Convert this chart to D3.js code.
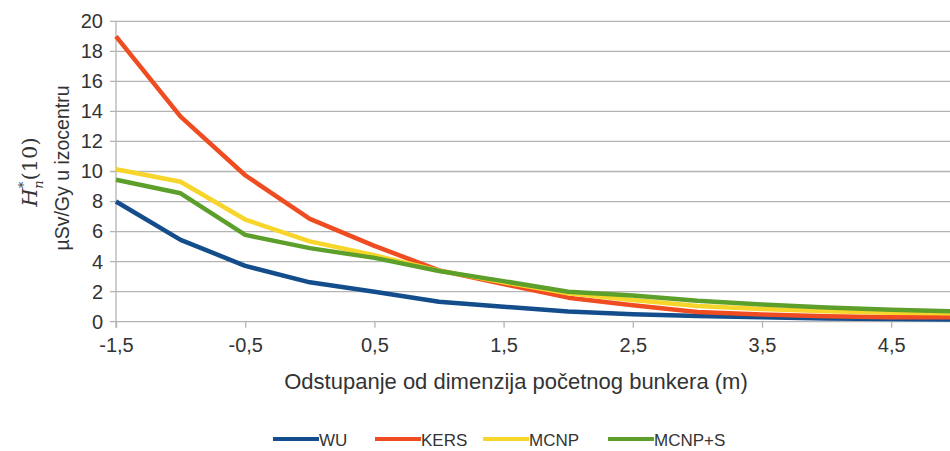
<!DOCTYPE html>
<html><head><meta charset="utf-8">
<script src="https://cdn.jsdelivr.net/npm/d3@7"></script>
<style>body{margin:0;background:#fff}svg{display:block}</style>
</head><body>
<svg id="c" width="950" height="451"></svg>
<script>
const xs = [-1.5,-1.0,-0.5,0,0.5,1.0,1.5,2.0,2.5,3.0,3.5,4.0,4.5,5.0];
const WU     = [8.0,5.45,3.72,2.62,2.0,1.33,1.0,0.68,0.5,0.38,0.3,0.22,0.18,0.15];
const KERS   = [19.0,13.65,9.75,6.85,5.05,3.42,2.5,1.6,1.1,0.65,0.48,0.36,0.3,0.3];
const MCNP   = [10.15,9.32,6.8,5.35,4.42,3.4,2.62,1.9,1.45,1.05,0.85,0.7,0.6,0.55];
const MCNPS  = [9.45,8.55,5.78,4.9,4.25,3.38,2.7,2.0,1.75,1.4,1.15,0.95,0.8,0.68];
const seriesNames = ["WU","KERS","MCNP","MCNP+S"];
const seriesColors = ["#134d8b","#f04c22","#f7d52b","#5d9f2b"];
const yTicks = [0,2,4,6,8,10,12,14,16,18,20];
const xTicks = [-1.5,-0.5,0.5,1.5,2.5,3.5,4.5];

const data = [WU,KERS,MCNP,MCNPS];
const svg = d3.select("#c");
const x = d3.scaleLinear().domain([-1.5,5.0]).range([116,955.8]);
const y = d3.scaleLinear().domain([0,20]).range([321.7,21.3]);
const font = "'Liberation Sans', Arial, sans-serif";

// gridlines
svg.append("g").selectAll("line").data(yTicks).join("line")
  .attr("x1",110).attr("x2",950).attr("y1",d=>y(d)).attr("y2",d=>y(d))
  .attr("stroke","#b4b4b4").attr("stroke-width",1.3);

// y axis
const yAxis = d3.axisLeft(y).tickValues(yTicks).tickSize(0).tickPadding(13)
  .tickFormat(d3.format("d"));
const gy = svg.append("g").attr("transform","translate(116,0)").call(yAxis);
gy.select(".domain").remove();
gy.selectAll("text").attr("font-family",font).attr("font-size",20).attr("fill","#333");
svg.append("line").attr("x1",116).attr("x2",116).attr("y1",y(20)).attr("y2",y(0)+6)
  .attr("stroke","#b4b4b4").attr("stroke-width",1.3);

// x axis
const xAxis = d3.axisBottom(x).tickValues(xTicks).tickSize(6).tickPadding(10)
  .tickFormat(d=>d3.format(".1f")(d).replace(".",",").replace("\u2212","-"));
const gx = svg.append("g").attr("transform",`translate(0,${y(0)})`).call(xAxis);
gx.select(".domain").remove();
gx.selectAll("line").attr("stroke","#b4b4b4").attr("stroke-width",1.3);
gx.selectAll("text").attr("font-family",font).attr("font-size",20).attr("fill","#333");

// lines
const line = d3.line().x((d,i)=>x(xs[i])).y(d=>y(d));
svg.append("g").selectAll("path").data([0,1,2,3]).join("path")
  .attr("d",i=>line(data[i])).attr("fill","none")
  .attr("stroke",i=>seriesColors[i]).attr("stroke-width",4.5)
  .attr("stroke-linejoin","round");

// x title
svg.append("text").attr("x",516).attr("y",389).attr("text-anchor","middle")
  .attr("font-family",font).attr("font-size",22).attr("fill","#333")
  .text("Odstupanje od dimenzija početnog bunkera (m)");

// y title
const t1 = svg.append("text").attr("transform","translate(37,172) rotate(-90)")
  .attr("text-anchor","middle").attr("font-family","'DejaVu Serif', 'Liberation Serif', serif")
  .attr("font-size",21).attr("fill","#333");
t1.append("tspan").attr("font-style","italic").text("H");
t1.append("tspan").attr("font-style","italic").attr("font-size",13).attr("dy",-9).text("*");
t1.append("tspan").attr("font-style","italic").attr("font-size",13).attr("dy",15).attr("dx",-7).text("n");
t1.append("tspan").attr("dy",-6).text("(10)");
svg.append("text").attr("transform","translate(69,168) rotate(-90)")
  .attr("text-anchor","middle").attr("font-family",font).attr("font-size",19.5).attr("fill","#333")
  .text("µSv/Gy u izocentru");

// legend
const legX = [273,375,483,608];
const lg = svg.append("g");
seriesNames.forEach((n,i)=>{
  lg.append("line").attr("x1",legX[i]).attr("x2",legX[i]+46).attr("y1",439).attr("y2",439)
    .attr("stroke",seriesColors[i]).attr("stroke-width",4);
  lg.append("text").attr("x",legX[i]+46).attr("y",446).attr("font-family",font)
    .attr("font-size",17).attr("fill","#333").text(n);
});
</script>
</body></html>
